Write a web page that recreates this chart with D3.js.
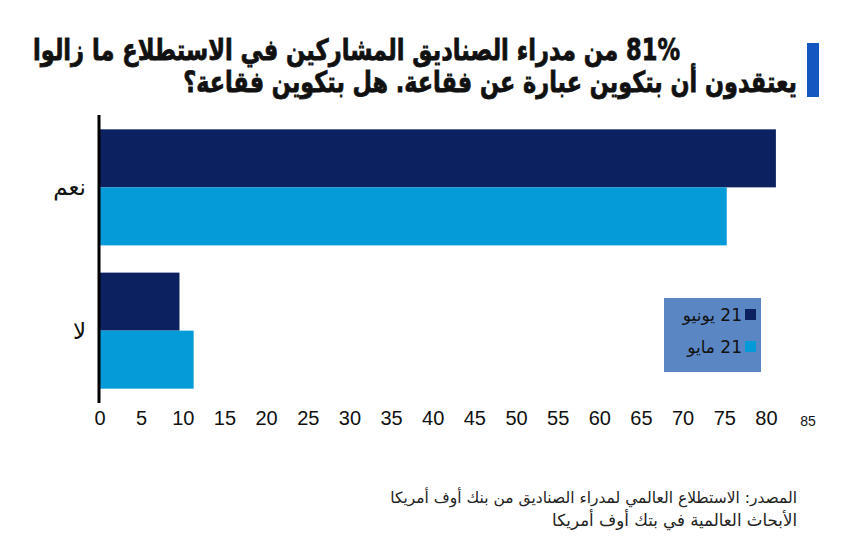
<!DOCTYPE html>
<html>
<head>
<meta charset="utf-8">
<script src="https://cdn.jsdelivr.net/npm/d3@7"></script>
<style>
    body { margin: 0; background: #fff; }
    svg { display: block; }
</style>
</head>
<body>
<div id="chart"></div>
<script>
const categories = ["نعم", "لا"];
const seriesNames = ["21 يونيو", "21 مايو"];
const june = [81.2, 9.6];
const may = [75.3, 11.3];
const ticks = [0, 5, 10, 15, 20, 25, 30, 35, 40, 45, 50, 55, 60, 65, 70, 75, 80, 85];
const titleLines = [
    "81% من مدراء الصناديق المشاركين في الاستطلاع ما زالوا",
    "يعتقدون أن بتكوين عبارة عن فقاعة. هل بتكوين فقاعة؟"
];
const sourceLines = [
    "المصدر: الاستطلاع العالمي لمدراء الصناديق من بنك أوف أمريكا",
    "الأبحاث العالمية في بتك أوف أمريكا"
];

const width = 854;
const height = 549;
const colors = ["#0c215f", "#059bd9"];
const arabicFont = "'DejaVu Sans', sans-serif";

const svg = d3
    .select("#chart")
    .append("svg")
    .attr("width", width)
    .attr("height", height);

// draws one rtl line whose right edge is at `right`, sized so its left edge
// lands on `left`, then stretched vertically by `stretch`
function fittedLine(line, spec, weight, stretch, fill) {
    const g = svg.append("g")
        .attr("transform", `translate(${spec.right}, ${spec.y}) scale(1, ${stretch})`);
    const t = g.append("text")
        .attr("direction", "rtl")
        .attr("text-anchor", "start")
        .style("font-family", arabicFont)
        .style("font-weight", weight)
        .style("font-size", "20px")
        .attr("fill", fill)
        .text(line);
    const w = t.node().getComputedTextLength();
    t.style("font-size", 20 * (spec.right - spec.left) / w + "px");
    return t;
}

// title: blue marker + two right-aligned lines
svg.append("rect")
    .attr("x", 807)
    .attr("y", 43)
    .attr("width", 12)
    .attr("height", 54)
    .attr("fill", "#1457c0");

const titleSpec = [
    { right: 680, left: 33, y: 60 },
    { right: 797, left: 183, y: 92 }
];

titleLines.forEach((line, i) => {
    fittedLine(line, titleSpec[i], "bold", 1.3, "#111")
        .attr("stroke", "#111")
        .attr("stroke-width", 0.6);
});

// scales
const xScale = d3
    .scaleLinear()
    .domain([0, 85])
    .range([99.5, 99.5 + 85 * 8.33]);

const yScale = d3
    .scaleBand()
    .domain(categories)
    .range([115, 403])
    .paddingInner(0.19)
    .paddingOuter(0.1);

const subScale = d3
    .scaleBand()
    .domain(seriesNames)
    .range([0, yScale.bandwidth()]);

const rows = categories.map((c, i) => ({
    category: c,
    values: [
        { series: seriesNames[0], value: june[i] },
        { series: seriesNames[1], value: may[i] }
    ]
}));

const groups = svg.selectAll("g.group")
    .data(rows)
    .enter()
    .append("g")
    .attr("class", "group")
    .attr("transform", d => `translate(0, ${yScale(d.category)})`);

groups.selectAll("rect")
    .data(d => d.values)
    .enter()
    .append("rect")
    .attr("x", xScale(0))
    .attr("y", d => subScale(d.series))
    .attr("width", d => xScale(d.value) - xScale(0))
    .attr("height", subScale.bandwidth())
    .attr("fill", (d, i) => colors[i]);

// y axis: plain black line with category labels
svg.append("line")
    .attr("x1", 99)
    .attr("x2", 99)
    .attr("y1", yScale.range()[0])
    .attr("y2", yScale.range()[1])
    .attr("stroke", "#000")
    .attr("stroke-width", 3);

svg.selectAll("text.cat")
    .data(categories)
    .enter()
    .append("text")
    .attr("class", "cat")
    .attr("x", 86)
    .attr("y", d => yScale(d) + yScale.bandwidth() / 2)
    .attr("dy", "0.35em")
    .attr("text-anchor", "end")
    .style("font-family", arabicFont)
    .style("font-size", "23px")
    .attr("fill", "#111")
    .text(d => d);

// x axis: tick labels only
const xAxis = d3.axisBottom(xScale)
    .tickValues(ticks)
    .tickSize(0)
    .tickPadding(0)
    .tickFormat(d3.format("d"));

const gx = svg.append("g")
    .attr("transform", "translate(0, 411)")
    .call(xAxis);

gx.select(".domain").remove();
gx.selectAll("text")
    .attr("dy", "0.71em")
    .style("font-family", "'Liberation Sans', Arial, sans-serif")
    .style("font-size", d => d === 85 ? "14px" : "20px")
    .attr("y", d => d === 85 ? 5 : 0)
    .attr("fill", "#111");

// legend
const legend = svg.append("g");

legend.append("rect")
    .attr("x", 664)
    .attr("y", 298)
    .attr("width", 97)
    .attr("height", 74)
    .attr("fill", "#5b86c4");

const legendY = d3.scalePoint()
    .domain(seriesNames)
    .range([315, 347]);

legend.selectAll("rect.key")
    .data(seriesNames)
    .enter()
    .append("rect")
    .attr("class", "key")
    .attr("x", 745)
    .attr("y", d => legendY(d) - 6)
    .attr("width", 11)
    .attr("height", 11)
    .attr("fill", (d, i) => colors[i]);

legend.selectAll("text")
    .data(seriesNames)
    .enter()
    .append("text")
    .attr("x", 742)
    .attr("y", d => legendY(d))
    .attr("dy", "0.35em")
    .attr("direction", "rtl")
    .attr("text-anchor", "start")
    .style("font-family", arabicFont)
    .style("font-size", "17px")
    .attr("fill", "#111")
    .text(d => d);

// source
const sourceSpec = [
    { right: 797, left: 390, y: 503 },
    { right: 797, left: 552, y: 526 }
];

sourceLines.forEach((line, i) => {
    fittedLine(line, sourceSpec[i], "normal", 1.0, "#222");
});
</script>
</body>
</html>
